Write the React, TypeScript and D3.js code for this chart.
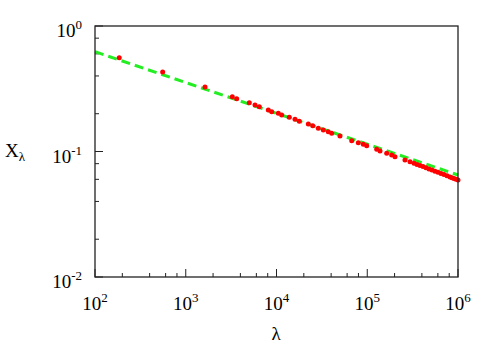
import * as d3 from 'd3';

// reference line (dashed green), endpoints of the power-law fit
const fitLambda = [1e2, 1e6];
const fitX = [0.624, 0.065];

// measured points (red dots)
const dotLambda = [
    185, 557, 1630, 3257, 3642, 5015, 5796, 6465, 8122, 8853, 10467, 11410, 13836, 15992, 17836, 22407, 25055,
    28880, 32790, 37230, 40580, 50080, 67410, 79680, 90470, 98630, 127100, 138200, 163800, 186000, 202200, 260600,
    295900, 327500, 353400, 381400, 411500, 444100, 479200, 517100, 558100, 602100, 649800, 701100, 756600, 816300,
    859000, 903400, 950600, 1000000,
];
const dotX = [
    0.559, 0.43, 0.3265, 0.2733, 0.2634, 0.2447, 0.2347, 0.2275, 0.2141, 0.2075, 0.2015, 0.1953, 0.1873, 0.1805,
    0.174, 0.1656, 0.1605, 0.1531, 0.1483, 0.1437, 0.1396, 0.1329, 0.1219, 0.1175, 0.1141, 0.1112, 0.1041, 0.1009,
    0.0967, 0.0938, 0.0909, 0.0855, 0.0829, 0.0807, 0.0789, 0.0774, 0.0758, 0.0741, 0.0727, 0.0711, 0.0697, 0.0683,
    0.0668, 0.0655, 0.064, 0.0627, 0.0618, 0.061, 0.0602, 0.0593,
];

const xExponents = [2, 3, 4, 5, 6];
const yExponents = [0, -1, -2];
const minorMult = [2, 4, 6, 8];

const W = 498;
const H = 349;
const m = { left: 95, right: 458, top: 26, bottom: 277 };
const txt = { fontFamily: '"Times New Roman", Times, Tinos, "Nimbus Roman", "Liberation Serif", "DejaVu Serif", FreeSerif, serif' };

export default function App() {
    const x = d3.scaleLog().domain([1e2, 1e6]).range([m.left, m.right]);
    const y = d3.scaleLog().domain([1e-2, 1]).range([m.bottom, m.top]);

    const line = d3
        .line<number>()
        .x((d) => x(fitLambda[d]))
        .y((d) => y(fitX[d]));

    const xMinor: number[] = [];
    xExponents.slice(0, -1).forEach((e) => minorMult.forEach((k) => xMinor.push(k * Math.pow(10, e))));
    const yMinor: number[] = [];
    yExponents.slice(1).forEach((e) => minorMult.forEach((k) => yMinor.push(k * Math.pow(10, e))));

    return (
        <svg width={W} height={H} style={{ position: 'absolute', left: 0, top: 0, background: '#fff' }}>
            {/* ticks */}
            {xExponents.map((e) => (
                <line key={'xM' + e} x1={x(Math.pow(10, e))} x2={x(Math.pow(10, e))} y1={m.bottom} y2={m.bottom - 8} stroke="#222" />
            ))}
            {xMinor.map((v) => (
                <line key={'xm' + v} x1={x(v)} x2={x(v)} y1={m.bottom} y2={m.bottom - 4} stroke="#222" />
            ))}
            {yExponents.map((e) => (
                <line key={'yM' + e} x1={m.left} x2={m.left + 8} y1={y(Math.pow(10, e))} y2={y(Math.pow(10, e))} stroke="#222" />
            ))}
            {yMinor.map((v) => (
                <line key={'ym' + v} x1={m.left} x2={m.left + 4} y1={y(v)} y2={y(v)} stroke="#222" />
            ))}

            {/* data */}
            <path d={line([0, 1]) ?? ''} fill="none" stroke="#22ee22" strokeWidth={3} strokeDasharray="9,5" />
            {dotLambda.map((l, i) => (
                <circle key={i} cx={x(l)} cy={y(dotX[i])} r={2.5} fill="#ff0000" />
            ))}

            {/* frame */}
            <rect x={m.left} y={m.top} width={m.right - m.left} height={m.bottom - m.top} fill="none" stroke="#222" strokeWidth={1.3} />

            {/* tick labels */}
            {xExponents.map((e) => (
                <text key={'xl' + e} x={x(Math.pow(10, e))} y={310} textAnchor="middle" fontSize={19} style={txt}>
                    10
                    <tspan fontSize={13} dy={-8}>
                        {e}
                    </tspan>
                </text>
            ))}
            {yExponents.map((e) => (
                <text key={'yl' + e} x={82} y={y(Math.pow(10, e)) + 11} textAnchor="end" fontSize={19} style={txt}>
                    10
                    <tspan fontSize={13} dy={-8}>
                        {e === 0 ? '0' : '-' + Math.abs(e)}
                    </tspan>
                </text>
            ))}

            {/* axis titles */}
            <text x={276} y={340} textAnchor="middle" fontSize={19} style={txt}>
                λ
            </text>
            <text x={5} y={157} fontSize={19} style={txt}>
                X
                <tspan fontSize={13} dy={4}>
                    λ
                </tspan>
            </text>
        </svg>
    );
}
